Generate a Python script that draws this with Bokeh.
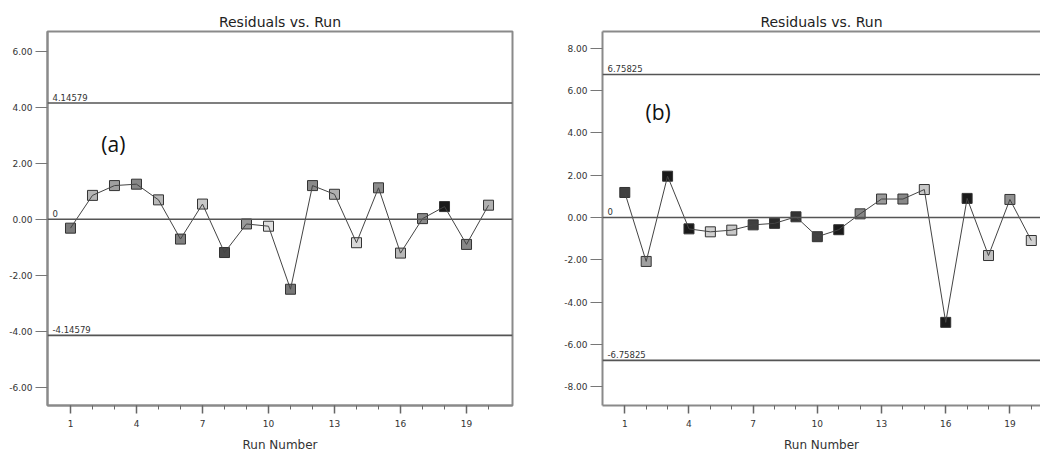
from bokeh.plotting import figure
from bokeh.layouts import row
from bokeh.models import Range1d, FixedTicker, PrintfTickFormatter, Label, Span, LinearAxis
from bokeh.embed import file_html
from bokeh.resources import INLINE

run = list(range(1, 21))
res_a = [-0.32, 0.85, 1.20, 1.25, 0.69, -0.71, 0.54, -1.19, -0.17, -0.25,
         -2.50, 1.20, 0.89, -0.84, 1.12, -1.21, 0.02, 0.45, -0.90, 0.50]
res_b = [1.18, -2.08, 1.95, -0.54, -0.68, -0.60, -0.35, -0.28, 0.03, -0.91,
         -0.58, 0.17, 0.87, 0.87, 1.32, -4.96, 0.90, -1.80, 0.85, -1.09]
fill_a = ["#7a7a7a", "#b5b5b5", "#a0a0a0", "#888888", "#b8b8b8", "#808080", "#c8c8c8",
          "#4a4a4a", "#999999", "#e0e0e0", "#777777", "#8a8a8a", "#b0b0b0", "#d8d8d8",
          "#8c8c8c", "#b8b8b8", "#8a8a8a", "#1a1a1a", "#888888", "#b0b0b0"]
fill_b = ["#404040", "#a0a0a0", "#1a1a1a", "#1a1a1a", "#d0d0d0", "#c8c8c8", "#404040",
          "#2a2a2a", "#333333", "#404040", "#1a1a1a", "#888888", "#999999", "#888888",
          "#c8c8c8", "#1a1a1a", "#1a1a1a", "#c0c0c0", "#909090", "#d0d0d0"]
limit_a = 4.14579
limit_b = 6.75825
x_major = [1, 4, 7, 10, 13, 16, 19]
y_ticks_a = [-6, -4, -2, 0, 2, 4, 6]
y_ticks_b = [-8, -6, -4, -2, 0, 2, 4, 6, 8]
title_text = "Residuals vs. Run"
x_label = "Run Number"

FONT = "DejaVu Sans"
FRAME = "#8a8a8a"
REFL = "#555555"


def style_axes(p, yticks):
    for ax in p.below:
        ax.ticker = FixedTicker(ticks=x_major, minor_ticks=run)
        ax.major_tick_out = 8
        ax.major_tick_in = 0
        ax.minor_tick_out = 4
        ax.minor_tick_in = 0
        ax.major_tick_line_width = 1.5
        ax.major_tick_line_color = "#666666"
        ax.minor_tick_line_color = "#666666"
        ax.major_label_text_font = FONT
        ax.major_label_text_font_size = "9px"
        ax.major_label_text_color = "#333333"
        ax.major_label_standoff = 6
        ax.axis_label = x_label
        ax.axis_label_text_font = FONT
        ax.axis_label_text_font_size = "12px"
        ax.axis_label_text_font_style = "normal"
        ax.axis_label_text_color = "#333333"
        ax.axis_label_standoff = 8
        ax.axis_line_color = FRAME
        ax.axis_line_width = 2
    for ax in p.left:
        ax.ticker = FixedTicker(ticks=yticks)
        ax.formatter = PrintfTickFormatter(format="%.2f")
        ax.major_tick_out = 12
        ax.major_tick_in = 0
        ax.minor_tick_out = 0
        ax.minor_tick_in = 0
        ax.major_tick_line_color = "#777777"
        ax.major_label_text_font = FONT
        ax.major_label_text_font_size = "9px"
        ax.major_label_text_color = "#333333"
        ax.major_label_standoff = 3
        ax.axis_line_color = FRAME
        ax.axis_line_width = 2
    p.xgrid.visible = False
    p.ygrid.visible = False
    p.title.text_font = FONT
    p.title.text_font_size = "14px"
    p.title.text_font_style = "normal"
    p.title.text_color = "#222222"
    p.title.align = "center"
    p.title.standoff = 3


def draw(p, res, fills, limit, tag, tag_x, tag_y):
    for loc in (limit, 0, -limit):
        p.add_layout(Span(location=loc, dimension="width", line_color=REFL, line_width=1.6))
    for loc, txt in ((limit, f"{limit:g}"), (0, "0"), (-limit, f"{-limit:g}")):
        p.add_layout(Label(x=p.x_range.start, y=loc, x_offset=5, y_offset=2, text=txt,
                           text_font=FONT, text_font_size="8.5px", text_color="#333333",
                           text_baseline="bottom"))
    p.scatter(run, res, marker="square", size=10, fill_color=fills,
              line_color="#333333", line_width=1)
    p.line(run, res, line_color="#444444", line_width=1)
    p.add_layout(Label(x=tag_x, y=tag_y, text=tag, text_font="Open Sans",
                       text_font_size="21px", text_color="#111111", text_baseline="middle"))


pa = figure(width=522, height=454, title=title_text, output_backend="svg",
            toolbar_location=None, x_range=Range1d(-0.045, 21.09),
            y_range=Range1d(-6.65, 6.70), min_border_left=47, min_border_right=10,
            min_border_top=31, min_border_bottom=49)
pa.outline_line_color = FRAME
pa.outline_line_width = 2
style_axes(pa, y_ticks_a)
draw(pa, res_a, fill_a, limit_a, "(a)", 2.4, 2.7)

pb = figure(width=518, height=454, title=title_text, output_backend="svg",
            toolbar_location=None, x_range=Range1d(-0.042, 20.43),
            y_range=Range1d(-8.89, 8.79), min_border_left=80, min_border_right=0,
            min_border_top=31, min_border_bottom=49)
pb.outline_line_color = None
top_axis = LinearAxis(ticker=FixedTicker(ticks=[]), major_label_text_font_size="0px",
                      major_tick_out=0, major_tick_in=0, minor_tick_out=0, minor_tick_in=0,
                      major_label_standoff=0, axis_line_color=FRAME, axis_line_width=2)
pb.add_layout(top_axis, "above")
style_axes(pb, y_ticks_b)
draw(pb, res_b, fill_b, limit_b, "(b)", 1.97, 5.0)

layout = row(pa, pb)
open("out.html", "w").write(file_html(layout, INLINE))
